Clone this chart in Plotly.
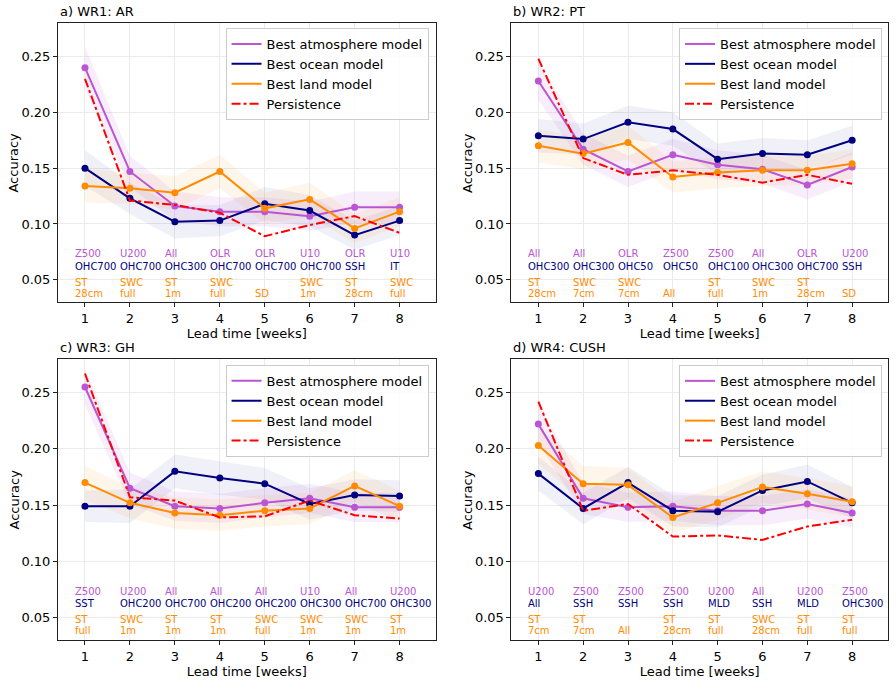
import plotly.graph_objects as go

weeks = [1, 2, 3, 4, 5, 6, 7, 8]
series_names = ["Best atmosphere model", "Best ocean model", "Best land model", "Persistence"]
panel_titles = ["a) WR1: AR", "b) WR2: PT", "c) WR3: GH", "d) WR4: CUSH"]
y_ticks = [0.05, 0.10, 0.15, 0.20, 0.25]

# ---- panel a) WR1: AR
a_atm = [0.240, 0.147, 0.116, 0.111, 0.111, 0.107, 0.115, 0.115]
a_ocn = [0.150, 0.123, 0.102, 0.103, 0.118, 0.112, 0.090, 0.103]
a_lnd = [0.134, 0.132, 0.128, 0.147, 0.114, 0.122, 0.096, 0.111]
a_per = [0.230, 0.121, 0.117, 0.110, 0.089, 0.099, 0.107, 0.092]
a_atm_sd = [0.019, 0.014, 0.013, 0.013, 0.013, 0.013, 0.014, 0.014]
a_ocn_sd = [0.016, 0.014, 0.015, 0.014, 0.015, 0.014, 0.013, 0.013]
a_lnd_sd = [0.015, 0.014, 0.015, 0.015, 0.014, 0.015, 0.013, 0.013]
a_atm_lbl = ["Z500", "U200", "All", "OLR", "OLR", "U10", "OLR", "U10"]
a_ocn_lbl = ["OHC700", "OHC700", "OHC300", "OHC700", "OHC700", "OHC700", "SSH", "IT"]
a_lnd_lbl = ["ST 28cm", "SWC full", "ST 1m", "SWC full", "SD", "SWC 1m", "ST 28cm", "SWC full"]

# ---- panel b) WR2: PT
b_atm = [0.228, 0.167, 0.147, 0.162, 0.153, 0.149, 0.135, 0.151]
b_ocn = [0.179, 0.176, 0.191, 0.185, 0.158, 0.163, 0.162, 0.175]
b_lnd = [0.170, 0.163, 0.173, 0.142, 0.146, 0.148, 0.148, 0.154]
b_per = [0.248, 0.159, 0.144, 0.148, 0.144, 0.137, 0.144, 0.136]
b_atm_sd = [0.017, 0.014, 0.014, 0.014, 0.013, 0.013, 0.013, 0.013]
b_ocn_sd = [0.015, 0.014, 0.015, 0.015, 0.014, 0.014, 0.013, 0.013]
b_lnd_sd = [0.015, 0.014, 0.015, 0.014, 0.014, 0.014, 0.013, 0.013]
b_atm_lbl = ["All", "All", "OLR", "Z500", "Z500", "All", "OLR", "U200"]
b_ocn_lbl = ["OHC300", "OHC300", "OHC50", "OHC50", "OHC100", "OHC300", "OHC700", "SSH"]
b_lnd_lbl = ["ST 28cm", "SWC 7cm", "SWC 7cm", "All", "ST full", "SWC 1m", "ST 28cm", "SD"]

# ---- panel c) WR3: GH
c_atm = [0.255, 0.165, 0.149, 0.147, 0.152, 0.156, 0.148, 0.148]
c_ocn = [0.149, 0.149, 0.180, 0.174, 0.169, 0.151, 0.159, 0.158]
c_lnd = [0.170, 0.152, 0.143, 0.141, 0.145, 0.147, 0.167, 0.149]
c_per = [0.267, 0.157, 0.154, 0.139, 0.140, 0.154, 0.141, 0.138]
c_atm_sd = [0.016, 0.014, 0.013, 0.013, 0.013, 0.013, 0.013, 0.013]
c_ocn_sd = [0.014, 0.015, 0.015, 0.015, 0.014, 0.014, 0.014, 0.014]
c_lnd_sd = [0.015, 0.014, 0.014, 0.014, 0.014, 0.014, 0.014, 0.014]
c_atm_lbl = ["Z500", "U200", "All", "All", "All", "U10", "All", "U200"]
c_ocn_lbl = ["SST", "OHC200", "OHC700", "OHC200", "OHC200", "OHC300", "OHC700", "OHC300"]
c_lnd_lbl = ["ST full", "SWC 1m", "ST 1m", "ST 1m", "SWC full", "SWC 1m", "SWC 1m", "ST 1m"]

# ---- panel d) WR4: CUSH
d_atm = [0.222, 0.156, 0.148, 0.149, 0.145, 0.145, 0.151, 0.143]
d_ocn = [0.178, 0.147, 0.170, 0.145, 0.144, 0.163, 0.171, 0.152]
d_lnd = [0.203, 0.169, 0.168, 0.139, 0.152, 0.166, 0.160, 0.153]
d_per = [0.242, 0.145, 0.151, 0.122, 0.123, 0.119, 0.131, 0.137]
d_atm_sd = [0.017, 0.014, 0.013, 0.013, 0.013, 0.013, 0.013, 0.013]
d_ocn_sd = [0.015, 0.014, 0.014, 0.014, 0.014, 0.014, 0.015, 0.014]
d_lnd_sd = [0.016, 0.016, 0.015, 0.014, 0.015, 0.014, 0.014, 0.014]
d_atm_lbl = ["U200", "Z500", "Z500", "Z500", "U200", "All", "U200", "Z500"]
d_ocn_lbl = ["All", "SSH", "SSH", "SSH", "MLD", "SSH", "MLD", "OHC300"]
d_lnd_lbl = ["ST 7cm", "ST 7cm", "All", "ST 28cm", "ST full", "SWC 28cm", "ST full", "ST full"]

panels = [
    (a_atm, a_ocn, a_lnd, a_per, a_atm_sd, a_ocn_sd, a_lnd_sd, a_atm_lbl, a_ocn_lbl, a_lnd_lbl),
    (b_atm, b_ocn, b_lnd, b_per, b_atm_sd, b_ocn_sd, b_lnd_sd, b_atm_lbl, b_ocn_lbl, b_lnd_lbl),
    (c_atm, c_ocn, c_lnd, c_per, c_atm_sd, c_ocn_sd, c_lnd_sd, c_atm_lbl, c_ocn_lbl, c_lnd_lbl),
    (d_atm, d_ocn, d_lnd, d_per, d_atm_sd, d_ocn_sd, d_lnd_sd, d_atm_lbl, d_ocn_lbl, d_lnd_lbl),
]

C_ATM = "#BA55D3"
C_OCN = "#000080"
C_LND = "#FF8C00"
C_PER = "#FF0000"
F_ATM = "rgba(186,85,211,0.10)"
F_OCN = "rgba(0,0,128,0.06)"
F_LND = "rgba(255,140,0,0.08)"

FONT = "DejaVu Sans"

W, H = 896, 684
ML, MR, MT, MB = 58, 7, 23, 42
PW, PH = W - ML - MR, H - MT - MB

def px_x(p):
    return (p - ML) / PW

def px_y(p):
    return (H - MB - p) / PH

x_dom = [[px_x(58), px_x(436)], [px_x(512), px_x(889)]]
y_dom = [[px_y(303), px_y(23)], [px_y(642), px_y(360)]]

fig = go.Figure()
annotations = []
layout_axes = {}

for i, pdata in enumerate(panels):
    atm, ocn, lnd, per, atm_sd, ocn_sd, lnd_sd, atm_lbl, ocn_lbl, lnd_lbl = pdata
    row, col = divmod(i, 2)
    sfx = "" if i == 0 else str(i + 1)
    xa, ya = "x" + sfx, "y" + sfx
    leg = "legend" + sfx

    # bands
    for vals, sd, fcol in [(atm, atm_sd, F_ATM), (ocn, ocn_sd, F_OCN), (lnd, lnd_sd, F_LND)]:
        upper = [v + s for v, s in zip(vals, sd)]
        lower = [v - s for v, s in zip(vals, sd)]
        fig.add_trace(go.Scatter(x=weeks, y=upper, mode="lines", line=dict(width=0),
                                 showlegend=False, hoverinfo="skip", xaxis=xa, yaxis=ya))
        fig.add_trace(go.Scatter(x=weeks, y=lower, mode="lines", line=dict(width=0),
                                 fill="tonexty", fillcolor=fcol, showlegend=False,
                                 hoverinfo="skip", xaxis=xa, yaxis=ya))

    # lines (legend entries) + markers
    for vals, colr, name in [(atm, C_ATM, series_names[0]), (ocn, C_OCN, series_names[1]),
                             (lnd, C_LND, series_names[2])]:
        fig.add_trace(go.Scatter(x=weeks, y=vals, mode="lines", line=dict(color=colr, width=2),
                                 name=name, legend=leg, xaxis=xa, yaxis=ya))
        fig.add_trace(go.Scatter(x=weeks, y=vals, mode="markers",
                                 marker=dict(color=colr, size=7), showlegend=False,
                                 xaxis=xa, yaxis=ya))
    fig.add_trace(go.Scatter(x=weeks, y=per, mode="lines",
                             line=dict(color=C_PER, width=2, dash="dashdot"),
                             name=series_names[3], legend=leg, xaxis=xa, yaxis=ya))

    # text labels
    for w, la, lo, ll in zip(weeks, atm_lbl, ocn_lbl, lnd_lbl):
        common = dict(xref=xa, yref=ya, x=w, xanchor="left", xshift=-12, yanchor="middle",
                      showarrow=False)
        annotations.append(dict(text=la, y=0.0731, font=dict(family=FONT, size=10, color=C_ATM), **common))
        annotations.append(dict(text=lo, y=0.0621, font=dict(family=FONT, size=10, color=C_OCN), **common))
        parts = ll.split(" ")
        if len(parts) == 2:
            annotations.append(dict(text=parts[0], y=0.0479, font=dict(family=FONT, size=10, color=C_LND), **common))
            annotations.append(dict(text=parts[1], y=0.0381, font=dict(family=FONT, size=10, color=C_LND), **common))
        else:
            annotations.append(dict(text=parts[0], y=0.0381, font=dict(family=FONT, size=10, color=C_LND), **common))

    # panel title
    annotations.append(dict(text=panel_titles[i], xref="paper", yref="paper",
                            x=x_dom[col][0], y=y_dom[row][1], xanchor="left", yanchor="bottom",
                            yshift=2, showarrow=False,
                            font=dict(family=FONT, size=13, color="black")))
    # y-axis title
    annotations.append(dict(text="Accuracy", xref="paper", yref="paper",
                            x=x_dom[col][0], y=(y_dom[row][0] + y_dom[row][1]) / 2,
                            xanchor="center", yanchor="middle", xshift=-44, textangle=-90,
                            showarrow=False, font=dict(family=FONT, size=13, color="black")))

    axis_common = dict(showline=True, mirror=True, linecolor="#222222", linewidth=1,
                       ticks="outside", ticklen=4, tickcolor="#222222",
                       showgrid=True, gridcolor="#ebebeb", gridwidth=1, zeroline=False,
                       tickfont=dict(family=FONT, size=13, color="black"))
    layout_axes["xaxis" + sfx] = dict(domain=x_dom[col], range=[0.4, 8.8], tickvals=weeks,
                                      anchor=ya,
                                      title=dict(text="Lead time [weeks]", standoff=4,
                                                 font=dict(family=FONT, size=13, color="black")),
                                      **axis_common)
    layout_axes["yaxis" + sfx] = dict(domain=y_dom[row], range=[0.03, 0.28], tickvals=y_ticks,
                                      tickformat=".2f", anchor=xa, **axis_common)
    layout_axes[leg] = dict(x=px_x(429 if col == 0 else 883), y=px_y(28 if row == 0 else 366),
                            xanchor="right", yanchor="top", traceorder="normal",
                            bgcolor="rgba(255,255,255,0.85)", bordercolor="#cccccc", borderwidth=1,
                            font=dict(family=FONT, size=13, color="black"),
                            itemwidth=30, tracegroupgap=0)

fig.update_layout(width=W, height=H, margin=dict(l=ML, r=MR, t=MT, b=MB),
                  plot_bgcolor="white", paper_bgcolor="white",
                  annotations=annotations, **layout_axes)

fig.write_html("out.html", config={"displayModeBar": False},
               post_script="document.body.style.margin='0';document.body.style.padding='0';")
